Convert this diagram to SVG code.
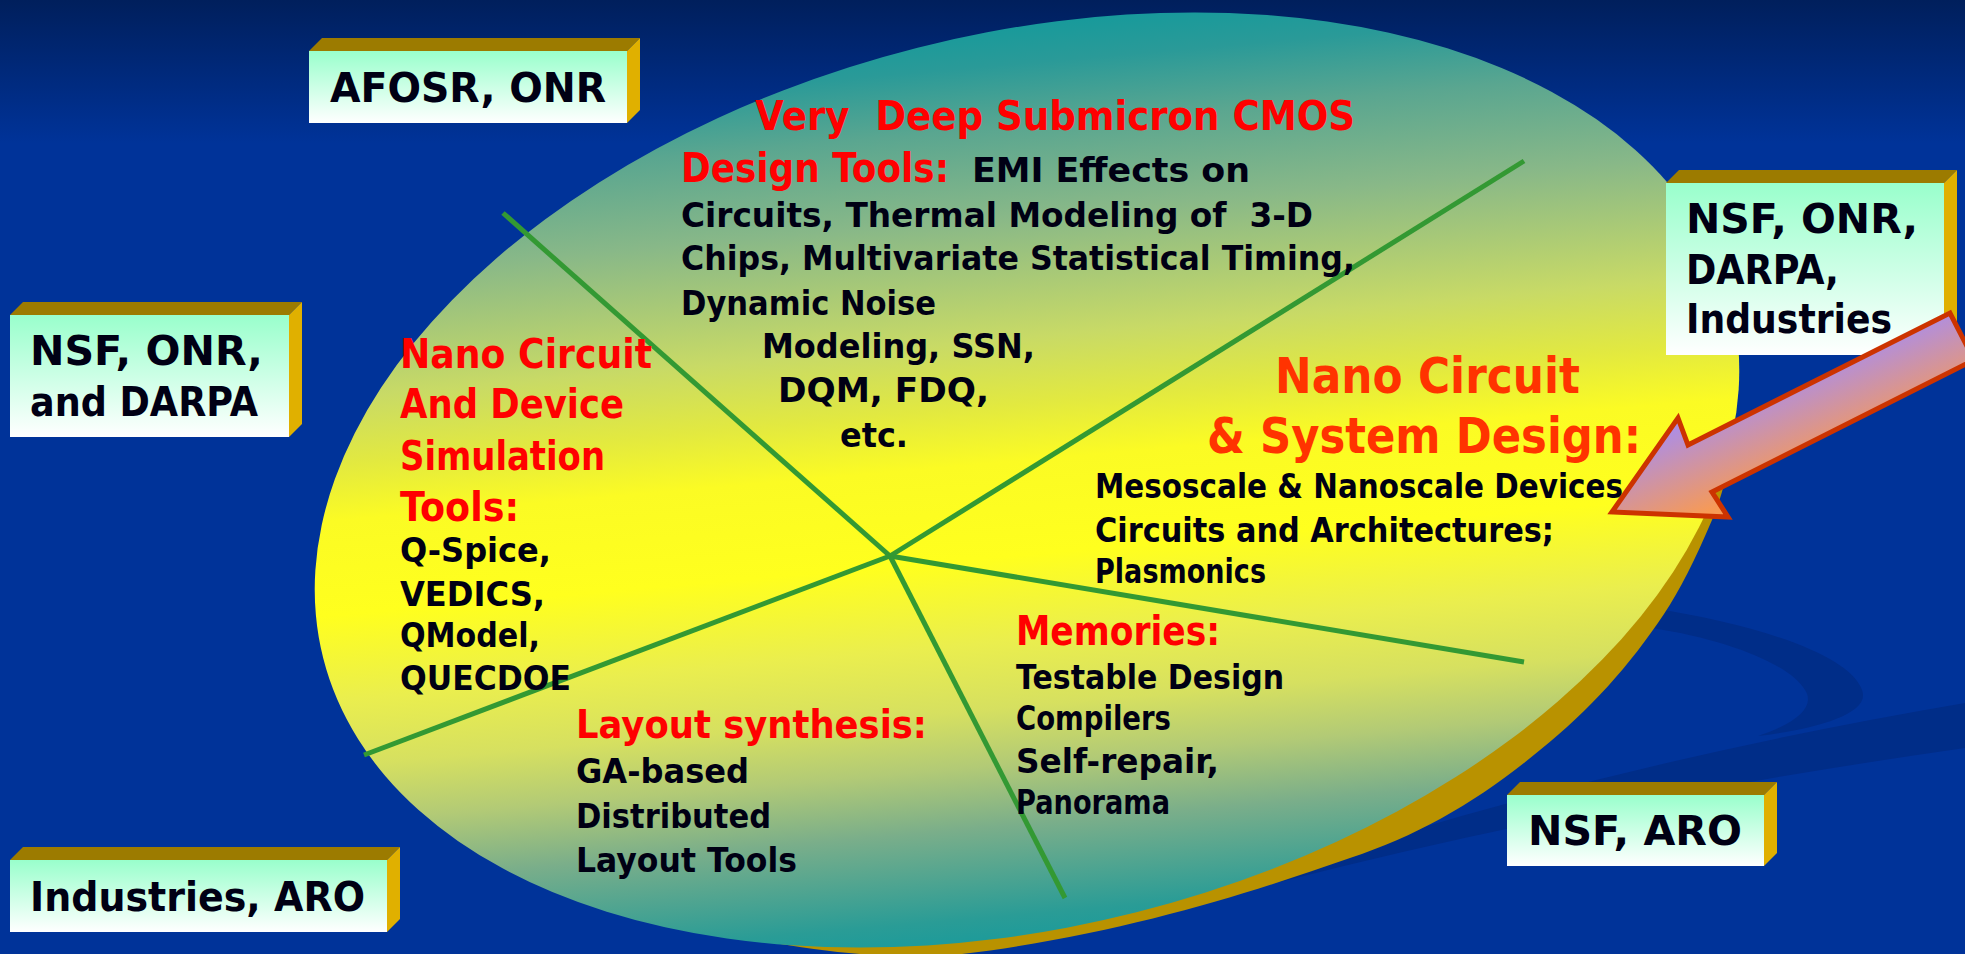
<svg xmlns="http://www.w3.org/2000/svg" width="1965" height="954" viewBox="0 0 1965 954">
<defs>
<linearGradient id="bg" x1="0" y1="0" x2="0" y2="954" gradientUnits="userSpaceOnUse">
<stop offset="0" stop-color="#001f5c"/><stop offset="0.15" stop-color="#003399"/><stop offset="1" stop-color="#003399"/>
</linearGradient>
<linearGradient id="disc" x1="1027" y1="8" x2="1027" y2="950" gradientUnits="userSpaceOnUse" gradientTransform="rotate(9.2 1027 480)">
<stop offset="0" stop-color="#109a9c"/><stop offset="0.06" stop-color="#2a9a98"/><stop offset="0.126" stop-color="#5aa690"/><stop offset="0.22" stop-color="#88b888"/><stop offset="0.35" stop-color="#c8da66"/><stop offset="0.42" stop-color="#e2e940"/><stop offset="0.48" stop-color="#fbfb24"/><stop offset="0.58" stop-color="#ffff1e"/><stop offset="0.67" stop-color="#eaee4e"/><stop offset="0.74" stop-color="#d6e060"/><stop offset="0.80" stop-color="#b2ca76"/><stop offset="0.865" stop-color="#7aae8a"/><stop offset="0.96" stop-color="#2a9c96"/><stop offset="1" stop-color="#169a9c"/>
</linearGradient>
<linearGradient id="front" x1="0" y1="0" x2="0" y2="1">
<stop offset="0" stop-color="#99ffcc"/><stop offset="1" stop-color="#ffffff"/>
</linearGradient>
<linearGradient id="arrowfill" x1="1700" y1="420" x2="1735" y2="500" gradientUnits="userSpaceOnUse">
<stop offset="0" stop-color="#b08ee0"/><stop offset="1" stop-color="#f79a55"/>
</linearGradient>
<style>
.t{font-family:"DejaVu Sans","Liberation Sans",sans-serif;font-weight:bold}
.bx{font-size:41px;fill:#000014}
.bd{font-size:34px;fill:#000014}
.rd{font-size:41px;fill:#ff0000}
.or{font-size:50px;fill:#ff3300}
.top{fill:#9c7b00}
.side{fill:#e0b000}
.face{fill:url(#front)}
.spoke{stroke:#339933;stroke-width:5;fill:none}
.swoosh{fill:#002d88}
</style>
</defs>
<rect x="0" y="0" width="1965" height="954" fill="url(#bg)"/>
<g id="background-swooshes">
<path class="swoosh" d="M1652,608 C1760,625 1850,655 1862,690 C1872,715 1810,730 1758,736 C1800,722 1815,705 1805,690 C1790,665 1730,640 1652,628 Z"/>
<path class="swoosh" d="M1280,872 Q1600,765 1965,703 L1965,748 Q1600,800 1280,882 Z"/>
</g>
<g id="disc">
<path d="M1735,370 C1735,450 1725,490 1712,520 C1695,560 1680,590 1664,614 C1630,665 1590,710 1540,750 C1480,800 1420,835 1350,858 C1250,893 1120,935 962,954 C900,960 820,955 700,928 L1027,480 Z" fill="#b99200"/>
<ellipse cx="1027" cy="480" rx="726" ry="446" fill="url(#disc)" transform="rotate(-14.2 1027 480)"/>
</g>
<g id="connectors">
<line class="spoke" x1="890" y1="556" x2="503" y2="213"/>
<line class="spoke" x1="890" y1="556" x2="1524" y2="161"/>
<line class="spoke" x1="890" y1="556" x2="1524" y2="662"/>
<line class="spoke" x1="890" y1="556" x2="1065" y2="898"/>
<line class="spoke" x1="890" y1="556" x2="364" y2="755"/>
</g>
<g id="vdsm-cmos">
<text class="t rd" x="755" y="130" textLength="600" lengthAdjust="spacingAndGlyphs" xml:space="preserve">Very  Deep Submicron CMOS</text>
<text class="t rd" x="681" y="182" textLength="268" lengthAdjust="spacingAndGlyphs">Design Tools:</text>
<text class="t bd" x="972" y="182" textLength="278" lengthAdjust="spacingAndGlyphs">EMI Effects on</text>
<text class="t bd" x="681" y="227" textLength="632" lengthAdjust="spacingAndGlyphs" xml:space="preserve">Circuits, Thermal Modeling of  3-D</text>
<text class="t bd" x="681" y="270" textLength="674" lengthAdjust="spacingAndGlyphs">Chips, Multivariate Statistical Timing,</text>
<text class="t bd" x="681" y="315" textLength="255" lengthAdjust="spacingAndGlyphs">Dynamic Noise</text>
<text class="t bd" x="762" y="358" textLength="273" lengthAdjust="spacingAndGlyphs">Modeling, SSN,</text>
<text class="t bd" x="778" y="402" textLength="211" lengthAdjust="spacingAndGlyphs">DQM, FDQ,</text>
<text class="t bd" x="840" y="447" textLength="68" lengthAdjust="spacingAndGlyphs">etc.</text>
</g>
<g id="nano-device-simulation">
<text class="t rd" x="400" y="368" textLength="252" lengthAdjust="spacingAndGlyphs">Nano Circuit</text>
<text class="t rd" x="400" y="418" textLength="224" lengthAdjust="spacingAndGlyphs">And Device</text>
<text class="t rd" x="400" y="470" textLength="205" lengthAdjust="spacingAndGlyphs">Simulation</text>
<text class="t rd" x="400" y="521" textLength="119" lengthAdjust="spacingAndGlyphs">Tools:</text>
<text class="t bd" x="400" y="562" textLength="151" lengthAdjust="spacingAndGlyphs">Q-Spice,</text>
<text class="t bd" x="400" y="606" textLength="145" lengthAdjust="spacingAndGlyphs">VEDICS,</text>
<text class="t bd" x="400" y="647" textLength="140" lengthAdjust="spacingAndGlyphs">QModel,</text>
<text class="t bd" x="400" y="690" textLength="171" lengthAdjust="spacingAndGlyphs">QUECDOE</text>
</g>
<g id="nano-system-design">
<text class="t or" x="1275" y="393" textLength="305" lengthAdjust="spacingAndGlyphs">Nano Circuit</text>
<text class="t or" x="1207" y="453" textLength="434" lengthAdjust="spacingAndGlyphs">&amp; System Design:</text>
<text class="t bd" x="1095" y="498" textLength="528" lengthAdjust="spacingAndGlyphs">Mesoscale &amp; Nanoscale Devices</text>
<text class="t bd" x="1095" y="542" textLength="459" lengthAdjust="spacingAndGlyphs">Circuits and Architectures;</text>
<text class="t bd" x="1095" y="583" textLength="171" lengthAdjust="spacingAndGlyphs">Plasmonics</text>
</g>
<g id="layout-synthesis">
<text class="t rd" x="576" y="738" textLength="351" lengthAdjust="spacingAndGlyphs" style="font-size:39px">Layout synthesis:</text>
<text class="t bd" x="576" y="783" textLength="173" lengthAdjust="spacingAndGlyphs">GA-based</text>
<text class="t bd" x="576" y="828" textLength="195" lengthAdjust="spacingAndGlyphs">Distributed</text>
<text class="t bd" x="576" y="872" textLength="221" lengthAdjust="spacingAndGlyphs">Layout Tools</text>
</g>
<g id="memories">
<text class="t rd" x="1016" y="645" textLength="204" lengthAdjust="spacingAndGlyphs">Memories:</text>
<text class="t bd" x="1016" y="689" textLength="268" lengthAdjust="spacingAndGlyphs">Testable Design</text>
<text class="t bd" x="1016" y="730" textLength="155" lengthAdjust="spacingAndGlyphs">Compilers</text>
<text class="t bd" x="1016" y="773" textLength="203" lengthAdjust="spacingAndGlyphs">Self-repair,</text>
<text class="t bd" x="1016" y="814" textLength="154" lengthAdjust="spacingAndGlyphs">Panorama</text>
</g>
<g id="box-afosr-onr">
<polygon class="top" points="309,51 322,38 640,38 627,51"/>
<polygon class="side" points="627,51 640,38 640,110 627,123"/>
<rect class="face" x="309" y="51" width="318" height="72"/>
<text class="t bx" x="330" y="102" textLength="276" lengthAdjust="spacingAndGlyphs">AFOSR, ONR</text>
</g>
<g id="box-nsf-onr-darpa">
<polygon class="top" points="10,315 23,302 302,302 289,315"/>
<polygon class="side" points="289,315 302,302 302,424 289,437"/>
<rect class="face" x="10" y="315" width="279" height="122"/>
<text class="t bx" x="30" y="365" textLength="233" lengthAdjust="spacingAndGlyphs">NSF, ONR,</text>
<text class="t bx" x="30" y="416" textLength="228" lengthAdjust="spacingAndGlyphs">and DARPA</text>
</g>
<g id="box-nsf-onr-darpa-industries">
<polygon class="top" points="1666,183 1679,170 1957,170 1944,183"/>
<polygon class="side" points="1944,183 1957,170 1957,342 1944,355"/>
<rect class="face" x="1666" y="183" width="278" height="172"/>
<text class="t bx" x="1686" y="233" textLength="232" lengthAdjust="spacingAndGlyphs">NSF, ONR,</text>
<text class="t bx" x="1686" y="284" textLength="153" lengthAdjust="spacingAndGlyphs">DARPA,</text>
<text class="t bx" x="1686" y="333" textLength="206" lengthAdjust="spacingAndGlyphs">Industries</text>
</g>
<g id="box-industries-aro">
<polygon class="top" points="10,860 23,847 400,847 387,860"/>
<polygon class="side" points="387,860 400,847 400,919 387,932"/>
<rect class="face" x="10" y="860" width="377" height="72"/>
<text class="t bx" x="30" y="911" textLength="335" lengthAdjust="spacingAndGlyphs">Industries, ARO</text>
</g>
<g id="box-nsf-aro">
<polygon class="top" points="1507,795 1520,782 1777,782 1764,795"/>
<polygon class="side" points="1764,795 1777,782 1777,853 1764,866"/>
<rect class="face" x="1507" y="795" width="257" height="71"/>
<text class="t bx" x="1528" y="845" textLength="214" lengthAdjust="spacingAndGlyphs">NSF, ARO</text>
</g>
<g id="arrow">
<polygon points="1612,512 1678,418 1688,445 1950,313 1974,360 1712,492 1728,517" fill="url(#arrowfill)" stroke="#cc3300" stroke-width="5" stroke-linejoin="miter"/>
</g>
</svg>
